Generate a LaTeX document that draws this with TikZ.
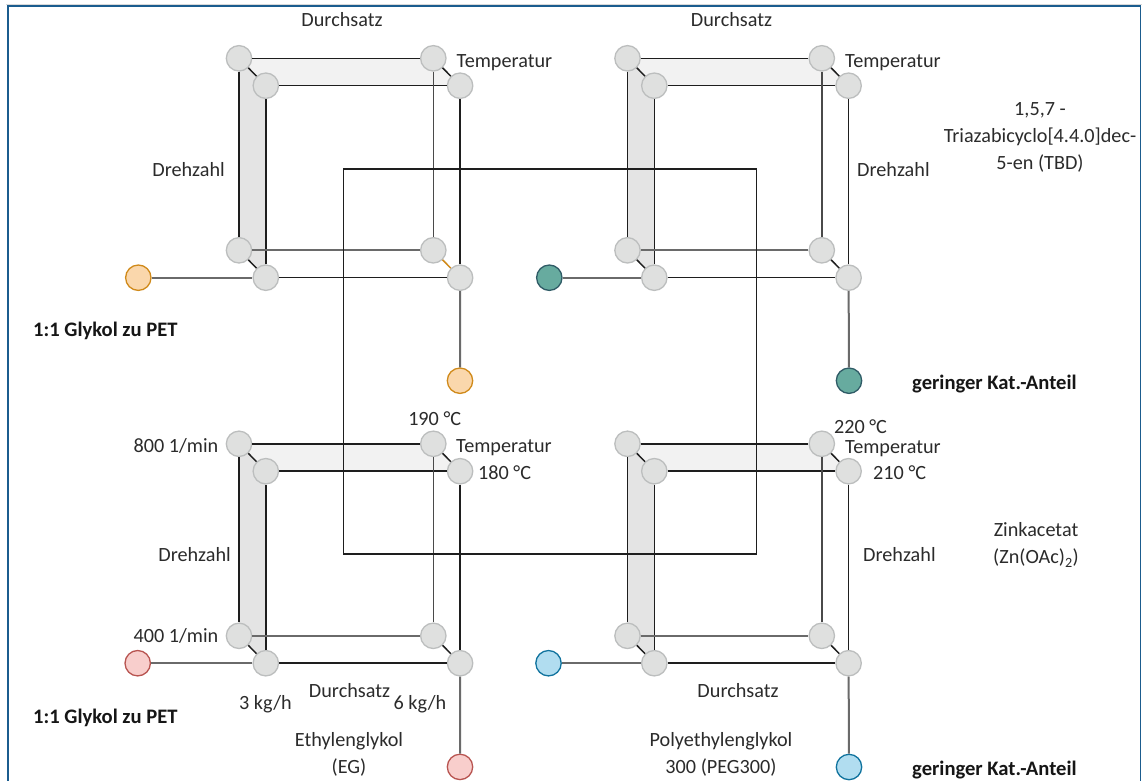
\documentclass[tikz,border=0pt]{standalone}
\usepackage{fontspec}
\setmainfont{Carlito}

\definecolor{framecol}{HTML}{1B5C8E}
\definecolor{edgedark}{HTML}{1E1E1E}
\definecolor{edgegray}{HTML}{6A6A6A}
\definecolor{edgeback}{HTML}{4A4A4A}
\definecolor{vtxfill}{HTML}{DFE0DF}
\definecolor{vtxline}{HTML}{BCBEBE}
\definecolor{sideface}{HTML}{E4E4E4}
\definecolor{topface}{HTML}{F2F2F2}
\definecolor{labelcol}{HTML}{2B2B2B}
\definecolor{boldcol}{HTML}{161616}
\definecolor{orfill}{HTML}{FAD7AC}
\definecolor{orline}{HTML}{D08A1A}
\definecolor{tefill}{HTML}{67AB9F}
\definecolor{teline}{HTML}{2F5B66}
\definecolor{pkfill}{HTML}{F8CECC}
\definecolor{pkline}{HTML}{B85450}
\definecolor{blfill}{HTML}{B1DDF0}
\definecolor{blline}{HTML}{10739E}

\tikzset{
  vtx/.style={circle, draw=vtxline, fill=vtxfill, line width=1.3pt,
    minimum size=25.4pt, inner sep=0pt},
  orangev/.style={vtx, draw=orline, fill=orfill},
  tealv/.style={vtx, draw=teline, fill=tefill},
  pinkv/.style={vtx, draw=pkline, fill=pkfill},
  bluev/.style={vtx, draw=blline, fill=blfill},
  edge/.style={draw=edgedark, line width=1.5pt},
  backedge/.style={draw=edgeback, line width=1.6pt},
  soft/.style={draw=edgegray, line width=2pt},
  lbl/.style={font=\fontsize{20.2}{27}\selectfont, text=labelcol,
    inner sep=0pt, text height=13pt, text depth=0pt},
  boldlbl/.style={lbl, font=\fontsize{20.6}{27}\selectfont\bfseries, text=boldcol},
  multi/.style={font=\fontsize{20.2}{27}\selectfont, text=labelcol,
    inner sep=0pt, align=center},
}

% One cube: #1 name prefix, (#2,#3) rear top-left corner, #4 colour of the rear lower diagonal
\newcommand{\cubeblock}[4]{%
  \coordinate (#1cbtl) at (#2,#3);
  \coordinate (#1cbtr) at ({#2+194.3},#3);
  \coordinate (#1cbbl) at (#2,{#3+192});
  \coordinate (#1cbbr) at ({#2+194.3},{#3+192});
  \coordinate (#1cftl) at ({#2+26.8},{#3+27.4});
  \coordinate (#1cftr) at ({#2+221.1},{#3+27.4});
  \coordinate (#1cfbl) at ({#2+26.8},{#3+219.4});
  \coordinate (#1cfbr) at ({#2+221.1},{#3+219.4});
  \fill[topface] (#1cbtl) -- (#1cbtr) -- (#1cftr) -- (#1cftl) -- cycle;
  \fill[sideface] (#1cbtl) -- (#1cftl) -- (#1cfbl) -- (#1cbbl) -- cycle;
  \node[vtx] (#1btl) at (#1cbtl) {};
  \node[vtx] (#1btr) at (#1cbtr) {};
  \node[vtx] (#1bbl) at (#1cbbl) {};
  \node[vtx] (#1bbr) at (#1cbbr) {};
  \node[vtx] (#1ftl) at (#1cftl) {};
  \node[vtx] (#1ftr) at (#1cftr) {};
  \node[vtx] (#1fbl) at (#1cfbl) {};
  \node[vtx] (#1fbr) at (#1cfbr) {};
  \draw[edge] (#1btl) -- (#1btr);
  \draw[edge] (#1ftl) -- (#1ftr);
  \draw[edge] (#1btl) -- (#1bbl);
  \draw[edge] (#1ftl) -- (#1fbl);
  \draw[backedge] (#1btr) -- (#1bbr);
  \draw[edge] (#1ftr) -- (#1fbr);
  \draw[soft] (#1bbl) -- (#1bbr);
  \draw[edge] (#1fbl) -- (#1fbr);
  \draw[edge] (#1btl) -- (#1ftl);
  \draw[edge] (#1btr) -- (#1ftr);
  \draw[edge] (#1bbl) -- (#1fbl);
  \draw[edge, draw=#4] (#1bbr) -- (#1fbr);
}

\begin{document}
\begin{tikzpicture}[x=1pt, y=-1pt]
  \useasboundingbox (0,0) rectangle (1145,780);
  \clip (0,0) rectangle (1145,780);
  \fill[white] (0,0) rectangle (1145,780);

  % the four cubes
  \cubeblock{A}{239}{58.3}{orline}
  \cubeblock{B}{627.5}{58.3}{edgedark}
  \cubeblock{C}{239}{443.8}{edgedark}
  \cubeblock{D}{627.5}{443.8}{edgedark}

  % central square
  \draw[edge] (343.3,169) rectangle (756.5,554);

  % coloured end points
  \node[orangev] (oa) at (138.3,277.7) {};
  \node[orangev] (ob) at (460,380.7) {};
  \node[tealv] (ta) at (549.3,277.7) {};
  \node[tealv] (tb) at (849,380.7) {};
  \node[pinkv] (pa) at (137.7,663.2) {};
  \node[pinkv] (pb) at (460,766.9) {};
  \node[bluev] (ba) at (548.5,663.2) {};
  \node[bluev] (bb) at (849,767) {};
  \draw[soft] (oa) -- (Afbl);
  \draw[soft] (Afbr) -- (ob);
  \draw[soft] (ta) -- (Bfbl);
  \draw[soft] (Bfbr) -- (tb);
  \draw[soft] (pa) -- (Cfbl);
  \draw[soft] (Cfbr) -- (pb);
  \draw[soft] (ba) -- (Dfbl);
  \draw[soft] (Dfbr) -- (bb);

  % labels, upper cubes
  \node[lbl] (l1) at (342,20) {Durchsatz};
  \node[lbl, anchor=west] (l2) at (456.5,61) {Temperatur};
  \node[lbl, anchor=east] (l3) at (225,170) {Drehzahl};
  \node[lbl] (l4) at (731.5,20) {Durchsatz};
  \node[lbl, anchor=west] (l5) at (845,61) {Temperatur};
  \node[lbl, anchor=west] (l6) at (857,170) {Drehzahl};
  \node[multi] (l7) at (1040,137) {1,5,7 -\\Triazabicyclo[4.4.0]dec-\\5-en (TBD)};
  \node[boldlbl, anchor=west] (l8) at (33,330) {1:1 Glykol zu PET};
  \node[boldlbl, anchor=west] (l9) at (912,382.5) {geringer Kat.-Anteil};

  % labels, lower cubes
  \node[lbl] (l10) at (434.7,419) {190 °C};
  \node[lbl, anchor=east] (l11) at (218.5,446) {800 1/min};
  \node[lbl, anchor=west] (l12) at (456,446) {Temperatur};
  \node[lbl, anchor=west] (l13) at (478,472.7) {180 °C};
  \node[lbl, anchor=east] (l14) at (231,555) {Drehzahl};
  \node[lbl, anchor=east] (l15) at (218.5,636) {400 1/min};
  \node[lbl] (l16) at (265.5,703) {3 kg/h};
  \node[lbl] (l17) at (349.5,691) {Durchsatz};
  \node[lbl] (l18) at (420,703) {6 kg/h};
  \node[boldlbl, anchor=west] (l19) at (33,717) {1:1 Glykol zu PET};
  \node[multi] (l20) at (349,754) {Ethylenglykol\\(EG)};
  \node[lbl] (l21) at (860.5,427) {220 °C};
  \node[lbl, anchor=west] (l22) at (845,447) {Temperatur};
  \node[lbl, anchor=west] (l23) at (873,473) {210 °C};
  \node[lbl, anchor=west] (l24) at (863,555) {Drehzahl};
  \node[multi] (l25) at (1036,545) {Zinkacetat\\(Zn(OAc)\textsubscript{2})};
  \node[lbl] (l26) at (738,691) {Durchsatz};
  \node[multi] (l27) at (721,754) {Polyethylenglykol\\300 (PEG300)};
  \node[boldlbl, anchor=west] (l28) at (912,769) {geringer Kat.-Anteil};

  % outer frame
  \draw[draw=black!15, line width=1pt] (6,4.5) -- (1142,4.5);
  \draw[draw=framecol, line width=1.8pt] (8,6) rectangle (1140.5,800);
\end{tikzpicture}
\end{document}
